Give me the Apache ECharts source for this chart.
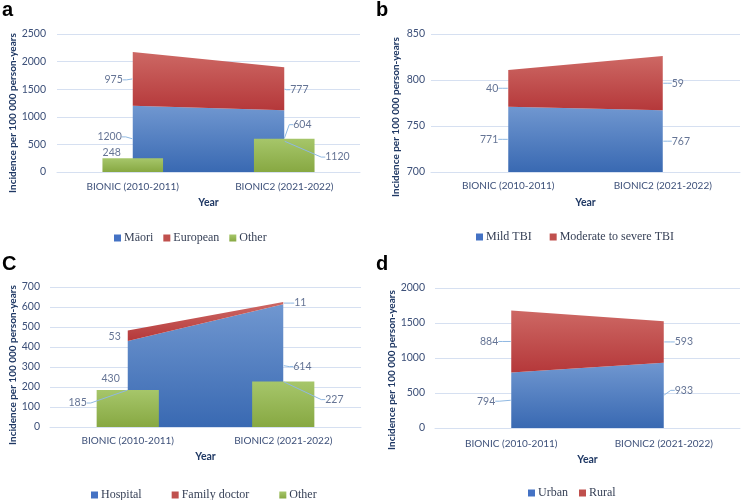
<!DOCTYPE html>
<html>
<head>
<meta charset="utf-8">
<script src="https://cdn.jsdelivr.net/npm/echarts@6/dist/echarts.min.js"></script>
<style>
html, body { margin: 0; padding: 0; background: #fff; }
#chart { width: 741px; height: 500px; }
</style>
</head>
<body>
<div id="chart"></div>
<script>
// values
var years = ['BIONIC (2010-2011)', 'BIONIC2 (2021-2022)'];

// a: ethnicity
var maori = [1200, 1120];
var european = [975, 777];
var otherEthnicity = [248, 604];
// b: severity
var mildTBI = [771, 767];
var modSevereTBI = [40, 59];
// c: point of care
var hospital = [430, 614];
var familyDoctor = [53, 11];
var otherCare = [185, 227];
// d: residence
var urban = [794, 933];
var rural = [884, 593];

// y axis [min, max, step]
var ticksA = [0, 2500, 500];
var ticksB = [700, 850, 50];
var ticksC = [0, 700, 100];
var ticksD = [0, 2000, 500];

var BLUE = '#4472c4', RED = '#c0504d', GREEN = '#9bbb59';
var txtColor = '#3d5079';
var nameColor = '#1f3864';
var gridColor = '#d6e0f1';
var sans = 'Lato, "Liberation Sans", sans-serif';
var serif = '"Liberation Serif", "DejaVu Serif", serif';

function grad(top, bottom) {
	return new echarts.graphic.LinearGradient(0, 0, 0, 1, [
		{ offset: 0, color: top },
		{ offset: 1, color: bottom }
	]);
}

// layout of each panel; offs = [dx, dy, align, leader line]
var panels = [
	{
		letter: 'a', letterPos: [2, 0],
		grid: { left: 57, right: 381, top: 34, bottom: 328 },
		ticks: ticksA, yMargin: 11, xMargin: 10, yNameGap: 37, yNamePad: 20, xNameGap: 25,
		legend: { left: 109, top: 227, itemGap: 10 },
		low: ['Māori', maori], high: ['European', european], bar: ['Other', otherEthnicity],
		offs: {
			low: [[-11, -2, 'right', 1], [41, 16, 'left', 1]],
			high: [[-10, 1, 'right', 1], [6, 1, 'left', 1]],
			bar: [[-21, -6, 'center', 0], [9, -14, 'left', 1]]
		}
	},
	{
		letter: 'b', letterPos: [376, 0],
		grid: { left: 431, right: 1, top: 34, bottom: 328 },
		ticks: ticksB, yMargin: 6, xMargin: 9, yNameGap: 30, yNamePad: 28, xNameGap: 25,
		legend: { left: 471, top: 226, itemGap: 18 },
		low: ['Mild TBI', mildTBI], high: ['Moderate to severe TBI', modSevereTBI], bar: null,
		offs: {
			low: [[-10, 0, 'right', 1], [9, 0, 'left', 1]],
			high: [[-10, 0, 'right', 1], [9, 0, 'left', 1]]
		}
	},
	{
		letter: 'C', letterPos: [2, 254],
		grid: { left: 50, right: 380, top: 287, bottom: 73 },
		ticks: ticksC, yMargin: 10, xMargin: 9, yNameGap: 30, yNamePad: 16, xNameGap: 24,
		legend: { left: 86, top: 484, itemGap: 30 },
		low: ['Hospital', hospital], high: ['Family doctor', familyDoctor], bar: ['Other', otherCare],
		offs: {
			low: [[-8, -5, 'right', 0], [10, 1, 'left', 1]],
			high: [[-7, 1, 'right', 0], [11, 0, 'left', 1]],
			bar: [[-41, 13, 'right', 1], [42, 18, 'left', 1]]
		}
	},
	{
		letter: 'd', letterPos: [376, 254],
		grid: { left: 435, right: 1, top: 288, bottom: 72 },
		ticks: ticksD, yMargin: 10, xMargin: 11, yNameGap: 35, yNamePad: 24, xNameGap: 26,
		legend: { left: 523, top: 482, itemGap: 11 },
		low: ['Urban', urban], high: ['Rural', rural], bar: null,
		offs: {
			low: [[-16, 1, 'right', 1], [11, -5, 'left', 1]],
			high: [[-13, 0, 'right', 1], [11, 0, 'left', 1]]
		}
	}
];

// invisible points that carry the data labels, with Excel style leader lines
function labelSeries(i, anchors, texts, offs) {
	return {
		type: 'scatter', name: 'labels', xAxisIndex: i, yAxisIndex: i, z: 6, silent: true,
		symbolSize: 1, itemStyle: { color: 'rgba(0,0,0,0)' },
		data: anchors.map(function (v, k) {
			return { value: v, labelLine: { show: !!offs[k][3] } };
		}),
		label: {
			show: true, position: 'inside',
			formatter: function (q) { return String(texts[q.dataIndex]); },
			color: txtColor, fontFamily: sans, fontSize: 10.5
		},
		labelLine: { show: true, length2: 4, lineStyle: { color: '#8fb8e2', width: 1 } },
		labelLayout: function (q) {
			var o = offs[q.dataIndex];
			return { dx: o[0], dy: o[1], align: o[2], verticalAlign: 'middle' };
		}
	};
}

var option = { animation: false, title: [], grid: [], xAxis: [], yAxis: [], legend: [], series: [] };

panels.forEach(function (p, i) {
	var min = p.ticks[0], max = p.ticks[1];
	option.title.push({
		text: p.letter, left: p.letterPos[0], top: p.letterPos[1], padding: 0,
		textStyle: { fontSize: 20, fontWeight: 'bold', color: '#000', fontFamily: '"Liberation Sans", Arial, sans-serif' }
	});
	option.grid.push(p.grid);
	option.xAxis.push({
		type: 'category', gridIndex: i, data: years,
		name: 'Year', nameLocation: 'middle', nameGap: p.xNameGap,
		nameTextStyle: { fontFamily: sans, fontWeight: 'bold', fontSize: 10.5, color: nameColor },
		axisTick: { show: false },
		axisLine: { lineStyle: { color: gridColor } },
		axisLabel: { margin: p.xMargin, color: txtColor, fontFamily: sans, fontSize: 10 }
	});
	option.yAxis.push({
		type: 'value', gridIndex: i, min: min, max: max, interval: p.ticks[2],
		name: 'Incidence per 100 000 person-years', nameLocation: 'middle', nameGap: p.yNameGap,
		nameTextStyle: { fontFamily: sans, fontWeight: 'bold', fontSize: 10, color: nameColor, padding: [0, p.yNamePad, 0, 0] },
		axisLine: { show: false }, axisTick: { show: false },
		axisLabel: {
			margin: p.yMargin, color: txtColor, fontFamily: sans, fontSize: 10.5,
			formatter: function (v) { return String(v); }
		},
		splitLine: { lineStyle: { color: gridColor } }
	});

	var lowVals = p.low[1], highVals = p.high[1];
	option.series.push({
		type: 'line', name: p.low[0], xAxisIndex: i, yAxisIndex: i, stack: p.letter,
		data: lowVals, symbol: 'none', color: BLUE, itemStyle: { color: BLUE },
		lineStyle: { width: 0 }, areaStyle: { color: grad('#7097d0', '#3969b2'), opacity: 1 }, z: 2
	});
	option.series.push({
		type: 'line', name: p.high[0], xAxisIndex: i, yAxisIndex: i, stack: p.letter,
		data: highVals, symbol: 'none', color: RED, itemStyle: { color: RED },
		lineStyle: { width: 0 }, areaStyle: { color: grad('#cd6864', '#b5383a'), opacity: 1 }, z: 2
	});
	var names = [p.low[0], p.high[0]];
	if (p.bar) {
		option.series.push({
			type: 'bar', name: p.bar[0], xAxisIndex: i, yAxisIndex: i, barWidth: '40%',
			data: p.bar[1], color: GREEN, itemStyle: { color: grad('#a6c66a', '#87a842') }, z: 3
		});
		names.push(p.bar[0]);
	}

	// label anchors sit at the middle of each visible stack segment, bars at their top
	var base = Math.max(min, 0);
	var lowMid = lowVals.map(function (v) { return (base + v) / 2; });
	var highMid = highVals.map(function (v, k) { return lowVals[k] + v / 2; });
	option.series.push(labelSeries(i, lowMid, lowVals, p.offs.low));
	option.series.push(labelSeries(i, highMid, highVals, p.offs.high));
	if (p.bar) option.series.push(labelSeries(i, p.bar[1], p.bar[1], p.offs.bar));

	option.legend.push({
		data: names, left: p.legend.left, top: p.legend.top, itemGap: p.legend.itemGap,
		icon: 'rect', itemWidth: 7, itemHeight: 7, selectedMode: false,
		itemStyle: { borderWidth: 0 },
		textStyle: { fontFamily: serif, fontSize: 12, color: '#353f55', padding: [0, 0, 0, -2] }
	});
});

var chart = echarts.init(document.getElementById('chart'));
chart.setOption(option);
</script>
</body>
</html>
